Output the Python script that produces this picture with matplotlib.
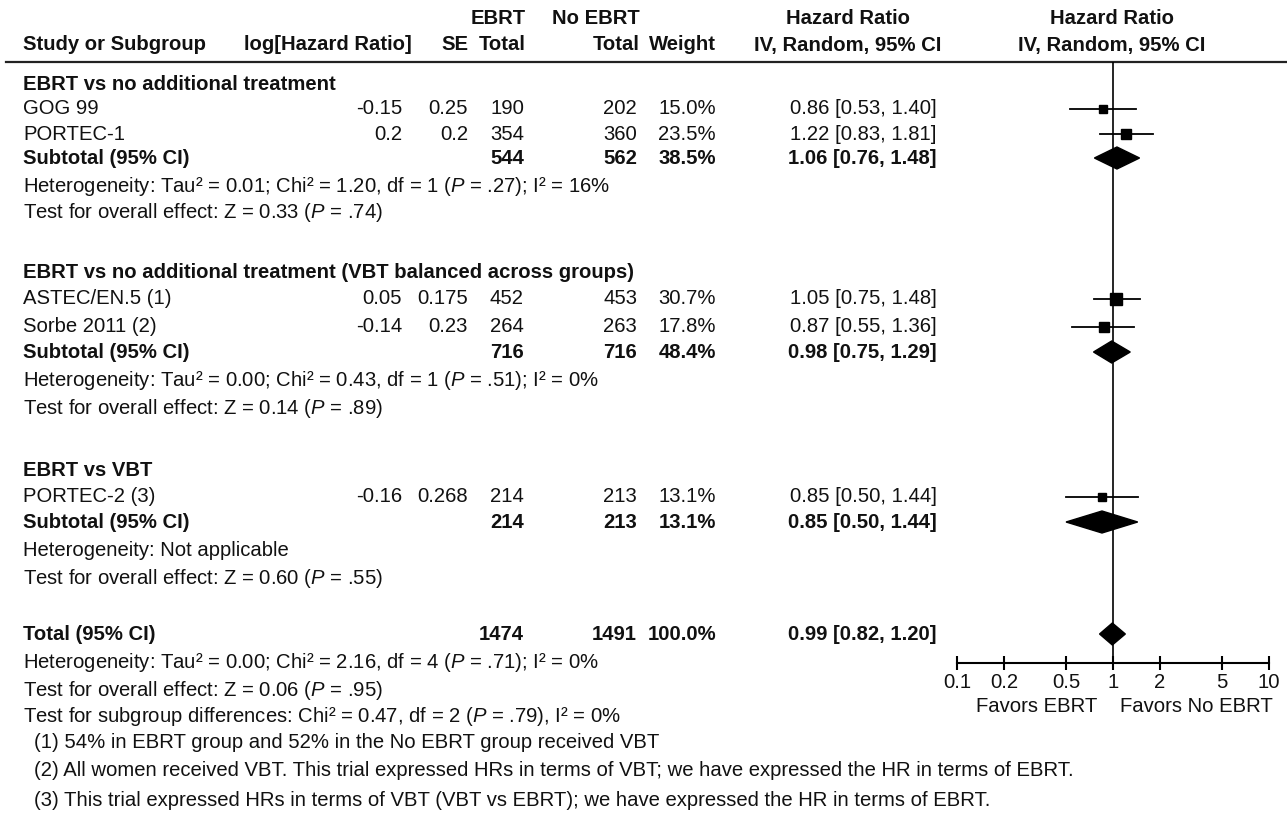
import numpy as np
import matplotlib
matplotlib.use("Agg")
import matplotlib.pyplot as plt
from matplotlib.ticker import NullLocator

plt.rcParams["font.family"] = ["Liberation Sans", "DejaVu Sans"]
plt.rcParams["mathtext.fontset"] = "custom"
plt.rcParams["mathtext.rm"] = "Liberation Sans"
plt.rcParams["mathtext.it"] = "Liberation Sans:italic"
plt.rcParams["mathtext.bf"] = "Liberation Sans:bold"

# ---- data -------------------------------------------------------------
studies   = ["GOG 99", "PORTEC-1", "ASTEC/EN.5 (1)", "Sorbe 2011 (2)", "PORTEC-2 (3)"]
log_hr    = [-0.15, 0.2, 0.05, -0.14, -0.16]
se        = [0.25, 0.2, 0.175, 0.23, 0.268]
ebrt_n    = [190, 354, 452, 264, 214]
no_ebrt_n = [202, 360, 453, 263, 213]
weight    = [15.0, 23.5, 30.7, 17.8, 13.1]
hr        = [0.86, 1.22, 1.05, 0.87, 0.85]
hr_lo     = [0.53, 0.83, 0.75, 0.55, 0.50]
hr_hi     = [1.40, 1.81, 1.48, 1.36, 1.44]

groups = ["EBRT vs no additional treatment",
          "EBRT vs no additional treatment (VBT balanced across groups)",
          "EBRT vs VBT"]
sub_ebrt = [544, 716, 214]
sub_no   = [562, 716, 213]
sub_w    = [38.5, 48.4, 13.1]
sub_hr   = [1.06, 0.98, 0.85]
sub_lo   = [0.76, 0.75, 0.50]
sub_hi   = [1.48, 1.29, 1.44]
sub_het  = ["Heterogeneity: Tau² = 0.01; Chi² = 1.20, df = 1 ($P$ = .27); I² = 16%",
            "Heterogeneity: Tau² = 0.00; Chi² = 0.43, df = 1 ($P$ = .51); I² = 0%",
            "Heterogeneity: Not applicable"]
sub_test = ["Test for overall effect: Z = 0.33 ($P$ = .74)",
            "Test for overall effect: Z = 0.14 ($P$ = .89)",
            "Test for overall effect: Z = 0.60 ($P$ = .55)"]

tot_ebrt, tot_no, tot_w = 1474, 1491, 100.0
tot_hr, tot_lo, tot_hi = 0.99, 0.82, 1.20
tot_notes = ["Heterogeneity: Tau² = 0.00; Chi² = 2.16, df = 4 ($P$ = .71); I² = 0%",
             "Test for overall effect: Z = 0.06 ($P$ = .95)",
             "Test for subgroup differences: Chi² = 0.47, df = 2 ($P$ = .79), I² = 0%"]
footnotes = ["(1) 54% in EBRT group and 52% in the No EBRT group received VBT",
             "(2) All women received VBT. This trial expressed HRs in terms of VBT; we have expressed the HR in terms of EBRT.",
             "(3) This trial expressed HRs in terms of VBT (VBT vs EBRT); we have expressed the HR in terms of EBRT."]

x_ticks = [0.1, 0.2, 0.5, 1, 2, 5, 10]
x_tick_labels = ["0.1", "0.2", "0.5", "1", "2", "5", "10"]

# ---- layout (pixel rows) ---------------------------------------------
W, H = 1287, 818
FS = 14.6
grp_y   = [84, 273, 470]
study_y = [109, 134, 299, 327, 497]
sub_y   = [158, 352, 522]
het_y   = [186, 381, 551]
test_y  = [212, 408, 578]
tot_y   = 634
notes_y = [663, 690, 716]
foot_y  = [742, 771, 800]
LINE_Y, AXIS_Y = 62, 663
X0, X1 = 957, 1269   # pixel position of 0.1 and 10

C_NAME, C_LOG, C_SE, C_E, C_N, C_W, C_HR = 23, 402, 468, 524, 637, 716, 937

fig = plt.figure(figsize=(W / 100, H / 100), dpi=100)
bg = fig.add_axes([0, 0, 1, 1])
bg.set_xlim(0, W)
bg.set_ylim(H, 0)
bg.axis("off")

def txt(x, y, s, ha="left", bold=False, **kw):
    bg.text(x, y, s, ha=ha, va="center", fontsize=FS, color="#111111",
            fontweight="bold" if bold else "normal", **kw)

# header
txt(C_E + 2, 18, "EBRT", "right", True)
txt(C_N + 3, 18, "No EBRT", "right", True)
txt(848, 18, "Hazard Ratio", "center", True)
txt(1112, 18, "Hazard Ratio", "center", True)
txt(C_NAME, 45, "Study or Subgroup", bold=True)
txt(C_LOG + 10, 45, "log[Hazard Ratio]", "right", True)
txt(C_SE, 45, "SE", "right", True)
txt(C_E + 2, 45, "Total", "right", True)
txt(C_N + 3, 45, "Total", "right", True)
txt(C_W, 45, "Weight", "right", True)
txt(848, 45, "IV, Random, 95% CI", "center", True)
txt(1112, 45, "IV, Random, 95% CI", "center", True)
bg.plot([6, W], [LINE_Y, LINE_Y], color="#222222", lw=1.6)

# study rows
for i, name in enumerate(studies):
    y = study_y[i]
    txt(C_NAME, y, name)
    txt(C_LOG, y, f"{log_hr[i]:g}", "right")
    txt(C_SE, y, f"{se[i]:g}", "right")
    txt(C_E, y, str(ebrt_n[i]), "right")
    txt(C_N, y, str(no_ebrt_n[i]), "right")
    txt(C_W, y, f"{weight[i]:.1f}%", "right")
    txt(C_HR, y, f"{hr[i]:.2f} [{hr_lo[i]:.2f}, {hr_hi[i]:.2f}]", "right")

# subgroup rows
for g, gname in enumerate(groups):
    txt(C_NAME, grp_y[g], gname, bold=True)
    y = sub_y[g]
    txt(C_NAME, y, "Subtotal (95% CI)", bold=True)
    txt(C_E, y, str(sub_ebrt[g]), "right", True)
    txt(C_N, y, str(sub_no[g]), "right", True)
    txt(C_W, y, f"{sub_w[g]:.1f}%", "right", True)
    txt(C_HR, y, f"{sub_hr[g]:.2f} [{sub_lo[g]:.2f}, {sub_hi[g]:.2f}]", "right", True)
    txt(C_NAME, het_y[g], sub_het[g])
    txt(C_NAME, test_y[g], sub_test[g])

# total
txt(C_NAME, tot_y, "Total (95% CI)", bold=True)
txt(C_E, tot_y, str(tot_ebrt), "right", True)
txt(C_N, tot_y, str(tot_no), "right", True)
txt(C_W, tot_y, f"{tot_w:.1f}%", "right", True)
txt(C_HR, tot_y, f"{tot_hr:.2f} [{tot_lo:.2f}, {tot_hi:.2f}]", "right", True)
for s, y in zip(tot_notes, notes_y):
    txt(C_NAME, y, s)
for s, y in zip(footnotes, foot_y):
    txt(C_NAME + 11, y, s)

txt(1037, 706, "Favors EBRT", "center")
txt(1196, 706, "Favors No EBRT", "center")

# ---- forest panel ----------------------------------------------------
ax = fig.add_axes([X0 / W, (H - AXIS_Y) / H, (X1 - X0) / W, (AXIS_Y - LINE_Y) / H])
ax.set_xscale("log")
ax.set_xlim(0.1, 10)
ax.set_ylim(AXIS_Y, LINE_Y)
ax.patch.set_alpha(0)
for side in ["top", "left", "right"]:
    ax.spines[side].set_visible(False)
ax.spines["bottom"].set_linewidth(1.5)
ax.set_yticks([])
ax.set_xticks(x_ticks)
ax.set_xticklabels(x_tick_labels, fontsize=FS, color="#111111")
ax.xaxis.set_minor_locator(NullLocator())
ax.tick_params(axis="x", direction="inout", length=10, width=1.5, pad=2)

ax.axvline(1, color="black", lw=1.2, zorder=1)

for i in range(len(studies)):
    y = study_y[i]
    ax.plot([hr_lo[i], hr_hi[i]], [y, y], color="black", lw=1.3, zorder=2)
    ax.plot(hr[i], y, marker="s", color="black",
            markersize=1.62 * np.sqrt(weight[i]), zorder=3)

DH = 11
for g in range(len(groups)):
    y = sub_y[g]
    ax.fill([sub_lo[g], sub_hr[g], sub_hi[g], sub_hr[g]],
            [y, y - DH, y, y + DH], color="black", zorder=3)
ax.fill([tot_lo, tot_hr, tot_hi, tot_hr],
        [tot_y, tot_y - DH, tot_y, tot_y + DH], color="black", zorder=3)

fig.savefig("out.png", dpi=100)
